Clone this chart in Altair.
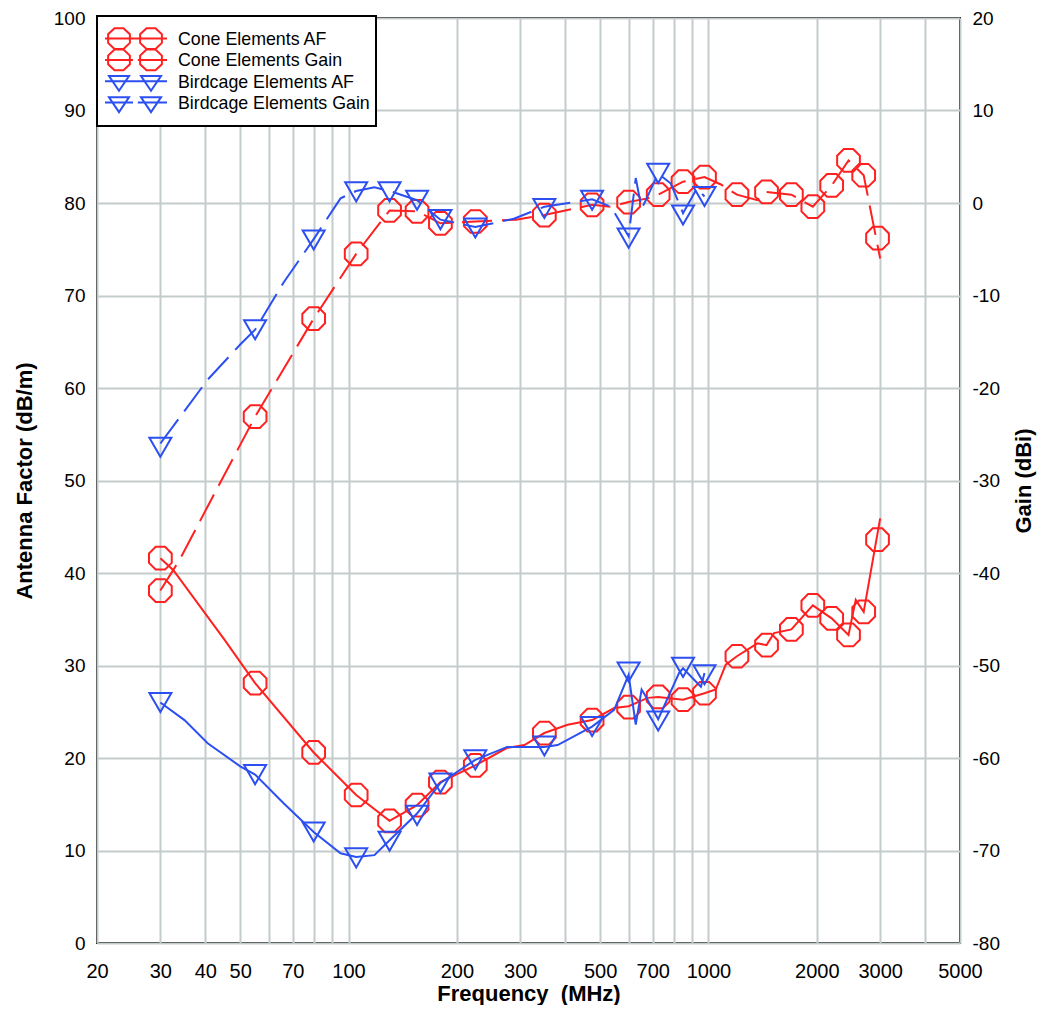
import altair as alt
import pandas as pd

FONT = "Liberation Sans"
RED = "#ff2020"
BLUE = "#2b4ff0"
GRID = "#c3cbcb"

# ---------------- data ----------------
# marker positions
CONE_F = [30, 55, 80, 105, 130, 155, 180, 225, 350, 475, 600, 725, 850, 975,
          1200, 1450, 1700, 1950, 2200, 2450, 2700, 2950]
CONE_AF = [41.6, 28.1, 20.6, 16.0, 13.2, 14.9, 17.4, 19.2, 22.7, 24.1, 25.5, 26.6,
           26.3, 27.0, 31.0, 32.2, 33.9, 36.5, 35.1, 33.3, 35.8, 43.6]
CONE_GAIN = [-41.9, -23.1, -12.5, -5.5, -0.8, -0.9, -2.2, -2.0, -1.3, -0.2, 0.1, 0.9,
             2.3, 2.8, 0.9, 1.2, 0.9, -0.4, 1.9, 4.6, 3.0, -3.8]
BIRD_F = [30, 55, 80, 105, 130, 155, 180, 225, 350, 475, 600, 725, 850, 975]
BIRD_AF = [26.0, 18.2, 12.0, 9.2, 11.0, 13.8, 17.3, 19.8, 21.3, 23.4, 29.3, 24.0, 29.8, 29.0]
BIRD_GAIN = [-26.4, -13.7, -4.0, 1.2, 1.2, 0.3, -1.8, -2.7, -0.6, 0.3, -3.8, 3.2, -1.3, 0.7]

# line traces
CONE_AF_LF = [30, 32.6, 45.2, 55, 80, 105, 130, 155, 180, 225, 276, 308, 350, 406, 475,
              547, 600, 678, 725, 850, 975, 1048, 1117, 1200, 1368, 1450, 1521, 1700,
              1950, 2200, 2450, 2566, 2700, 3000]
CONE_AF_LV = [41.6, 40.3, 32.8, 28.1, 20.6, 16.0, 13.2, 14.9, 17.4, 19.2, 21.1, 21.4, 22.7,
              23.6, 24.1, 25.4, 25.6, 26.5, 26.6, 26.3, 27.0, 27.4, 30.1, 31.0, 32.4, 32.2,
              33.5, 33.9, 36.5, 35.1, 33.3, 37.1, 35.8, 45.9]
CONE_GAIN_LF = [30, 33.9, 41.5, 55, 80, 105, 130, 155, 180, 225, 292, 350, 475, 536, 600,
                678, 725, 850, 975, 1083, 1200, 1368, 1450, 1700, 1950, 2200, 2450, 2700, 3000]
CONE_GAIN_LV = [-41.9, -38.6, -32.1, -23.1, -12.5, -5.5, -0.8, -0.9, -2.2, -2.0, -1.8, -1.3,
                -0.2, -0.4, 0.1, 0.5, 0.9, 2.3, 2.8, 2.0, 0.9, 0.3, 1.2, 0.9, -0.4, 1.9,
                4.6, 3.0, -6.0]
BIRD_AF_LF = [30, 35, 40.6, 50, 55, 66, 80, 95, 105, 118, 130, 155, 180, 225, 276, 350, 381,
              475, 547, 600, 628, 652, 666, 725, 829, 850, 953, 975]
BIRD_AF_LV = [26.0, 24.1, 21.6, 19.1, 18.2, 15.1, 12.0, 9.7, 9.3, 9.5, 11.1, 14.0, 17.3, 19.8,
              21.2, 21.2, 21.4, 23.4, 25.2, 29.0, 23.6, 27.4, 26.8, 24.2, 29.2, 29.7, 27.7, 29.2]
BIRD_GAIN_LF = [30, 40.6, 50, 55, 66, 80, 95, 105, 118, 130, 155, 180, 225, 288, 350, 475,
                536, 600, 628, 652, 666, 725, 786, 850, 930, 975]
BIRD_GAIN_LV = [-26.0, -19.1, -15.3, -13.7, -8.6, -3.9, 0.5, 1.3, 1.7, 1.3, 0.3, -1.8, -2.6,
                -1.7, -0.4, 0.4, -0.4, -3.6, 2.7, -0.6, 0.1, 3.2, 2.1, -1.1, 1.6, 0.7]

LABELS = ["Cone Elements AF", "Cone Elements Gain", "Birdcage Elements AF", "Birdcage Elements Gain"]

X_GRID = [20, 30, 40, 50, 60, 70, 80, 90, 100, 200, 300, 400, 500, 600, 700, 800, 900,
          1000, 2000, 3000, 4000, 5000]
X_LABELS = [20, 30, 40, 50, 70, 100, 200, 300, 500, 700, 1000, 2000, 3000, 5000]
Y_LEFT = list(range(0, 101, 10))
Y_RIGHT = list(range(-80, 21, 10))


# ---------------- marker shapes ----------------
K8 = 0.4142


def octagon(cx, cy, rx, ry):
    pts = [(rx, ry * K8), (rx * K8, ry), (-rx * K8, ry), (-rx, ry * K8),
           (-rx, -ry * K8), (-rx * K8, -ry), (rx * K8, -ry), (rx, -ry * K8)]
    return "M" + " L".join(f"{cx + a:.4f},{cy + b:.4f}" for a, b in pts) + " Z "


def tri(cx, cy, hw, top, tip):
    return (f"M{cx - hw:.4f},{cy + top:.4f} L{cx + hw:.4f},{cy + top:.4f} "
            f"L{cx:.4f},{cy + tip:.4f} Z ")


def hline(cy, gap):
    if gap:
        return f"M-1.75,{cy:.4f} L1.75,{cy:.4f} M2.35,{cy:.4f} L6,{cy:.4f} "
    return f"M-1.75,{cy:.4f} L6,{cy:.4f} "


OCT = octagon(0, 0, 0.9239, 0.9239)
TRI = "M-1,-0.866 L1,-0.866 L0,0.866 Z"

# legend symbol geometry, in units of 8 px (symbolSize 256)
FS = 17.8          # legend label font size
LH = 21.3          # legend line height (px)
ROW0 = (round(0.79 * FS) - 0.36 * FS) / 8.0
ROWS = [ROW0 + k * LH / 8.0 for k in range(4)]
D_L = 4.0
OX, OY = 1.36, 1.3
BOUND = f"M0,{ROWS[0] - 1.6:.4f} M0,{ROWS[3] + 1.6:.4f} "
RED_PATH = (BOUND + hline(ROWS[0], False) + octagon(0, ROWS[0], OX, OY) + octagon(D_L, ROWS[0], OX, OY)
            + hline(ROWS[1], True) + octagon(0, ROWS[1], OX, OY) + octagon(D_L, ROWS[1], OX, OY))
BLUE_PATH = (BOUND + hline(ROWS[2], False) + tri(0, ROWS[2], 1.25, -0.65, 1.2) + tri(D_L, ROWS[2], 1.25, -0.65, 1.2)
             + hline(ROWS[3], True) + tri(0, ROWS[3], 1.25, -0.65, 1.2) + tri(D_L, ROWS[3], 1.25, -0.65, 1.2))
LEG_EXPR = "[" + ",".join(f"'{s}'" for s in LABELS) + "]"


def frame(f, v):
    return pd.DataFrame({"f": f, "v": v})


label_list = ",".join(str(v) for v in X_LABELS)
x_axis = alt.Axis(
    values=X_GRID, format="d",
    labelExpr=f"indexof([{label_list}], datum.value) >= 0 ? datum.label : ''",
    grid=True, ticks=False, tickSize=0, domain=False,
    labelFontSize=20, labelFont=FONT, labelColor="black", labelPadding=18,
    labelFlush=False, labelOverlap=False,
    title="Frequency\u00a0 (MHz)", titleFontSize=22, titleFont=FONT, titleFontWeight="bold",
    titleColor="black", titlePadding=2,
)
X = alt.X("f:Q", scale=alt.Scale(type="log", domain=[20, 5000], nice=False), axis=x_axis)

y_left_axis = alt.Axis(
    values=Y_LEFT, grid=True, ticks=False, tickSize=0, domain=False,
    labelFontSize=19, labelFont=FONT, labelColor="black", labelPadding=12,
    labelFlush=False, labelOverlap=False, labelExpr="'' + datum.value",
    title="Antenna Factor (dB/m)", titleFontSize=22, titleFont=FONT, titleFontWeight="bold",
    titleColor="black", titlePadding=17,
)
y_right_axis = alt.Axis(
    orient="right", values=Y_RIGHT, grid=False, ticks=False, tickSize=0, domain=False,
    labelFontSize=19, labelFont=FONT, labelColor="black", labelPadding=12,
    labelFlush=False, labelOverlap=False, labelExpr="'' + datum.value",
    title="Gain (dBi)", titleFontSize=22, titleFont=FONT, titleFontWeight="bold",
    titleColor="black", titlePadding=14, titleAngle=270, titleBaseline="top",
)
Y_L = alt.Y("v:Q", scale=alt.Scale(domain=[0, 100], nice=False, zero=False), axis=y_left_axis)
Y_R = alt.Y("v:Q", scale=alt.Scale(domain=[-80, 20], nice=False, zero=False), axis=y_right_axis)

DASH = [30, 10]


def line(f, v, color, y, dash=None):
    kw = dict(color=color, strokeWidth=2, clip=True)
    if dash:
        kw["strokeDash"] = dash
    return alt.Chart(frame(f, v)).mark_line(**kw).encode(x=X, y=y, order=alt.Order("f:Q"))


def pts(f, v, color, shape, size, y):
    return alt.Chart(frame(f, v)).mark_point(
        shape=shape, size=size, color=color, strokeWidth=2, filled=False, opacity=1
    ).encode(x=X, y=y)


def legend_layer(key, color, path, y, visible_box):
    leg = alt.Legend(
        title=None, orient="none", legendX=0, legendY=-2, padding=6,
        symbolSize=256, symbolStrokeWidth=2, symbolOffset=7, labelOffset=50,
        labelBaseline="top", labelFontSize=FS, labelFont=FONT, labelColor="black",
        labelLimit=400, labelExpr=LEG_EXPR, labelOpacity=1 if visible_box else 0,
        strokeColor="black" if visible_box else "transparent",
        fillColor="white" if visible_box else "transparent",
        zindex=1 if visible_box else 2,
    )
    df = pd.DataFrame({"f": [10], "v": [50], "entry": [key]})
    return alt.Chart(df).mark_point(clip=True, filled=False, strokeWidth=2, opacity=1).encode(
        x=X, y=y,
        color=alt.Color("entry:N", scale=alt.Scale(domain=[key], range=[color]), legend=leg),
        shape=alt.Shape("entry:N", scale=alt.Scale(domain=[key], range=[path]), legend=leg),
    )


af_group = alt.layer(
    line(CONE_AF_LF, CONE_AF_LV, RED, Y_L),
    pts(CONE_F, CONE_AF, RED, OCT, 605, Y_L),
    line(BIRD_AF_LF, BIRD_AF_LV, BLUE, Y_L),
    pts(BIRD_F, BIRD_AF, BLUE, TRI, 484, Y_L),
    legend_layer("Cone", RED, RED_PATH, Y_L, True),
)
gain_group = alt.layer(
    line(CONE_GAIN_LF, CONE_GAIN_LV, RED, Y_R, DASH),
    pts(CONE_F, CONE_GAIN, RED, OCT, 605, Y_R),
    line(BIRD_GAIN_LF, BIRD_GAIN_LV, BLUE, Y_R, DASH),
    pts(BIRD_F, BIRD_GAIN, BLUE, TRI, 484, Y_R),
    legend_layer("Birdcage", BLUE, BLUE_PATH, Y_R, False),
)

chart = alt.layer(af_group, gain_group).resolve_scale(
    y="independent", color="independent", shape="independent"
).properties(
    width=863, height=925,
    autosize=alt.AutoSizeParams(type="none"),
    padding={"left": 89, "top": 10, "right": 80, "bottom": 62},
    background="white",
).configure(
    style={"guide-label": {"lineHeight": LH}}
).configure_view(
    stroke="black", strokeWidth=2
).configure_axis(
    gridColor=GRID, gridWidth=2, gridOpacity=1
).configure_legend(
    strokeWidth=2
)

chart.save("out.html", embed_options={"renderer": "svg", "actions": False})
